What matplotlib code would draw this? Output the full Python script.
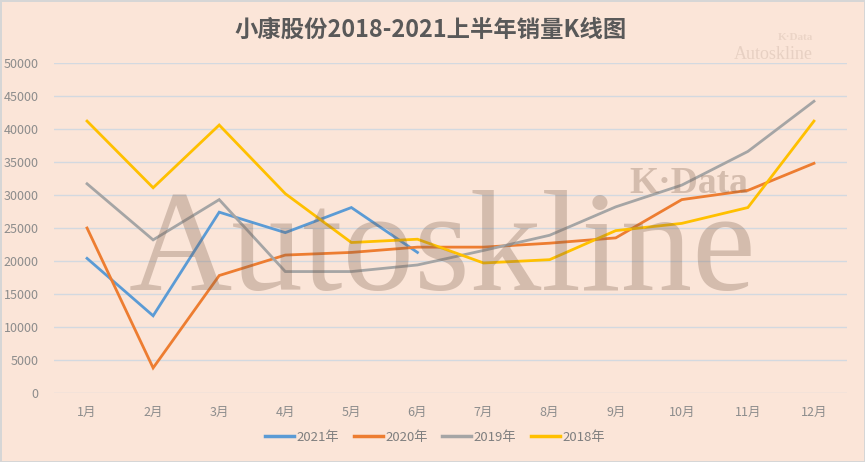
import matplotlib
matplotlib.use("Agg")
import matplotlib.pyplot as plt
from matplotlib.lines import Line2D

plt.rcParams['font.family'] = ['Noto Sans CJK SC', 'DejaVu Sans']

months = ['1月', '2月', '3月', '4月', '5月', '6月', '7月', '8月', '9月', '10月', '11月', '12月']
sales_2021 = [20400, 11700, 27400, 24300, 28100, 21300]
sales_2020 = [25000, 3800, 17800, 20900, 21300, 22100, 22100, 22700, 23500, 29300, 30700, 34800]
sales_2019 = [31700, 23200, 29300, 18400, 18400, 19400, 21600, 23900, 28200, 31500, 36600, 44200]
sales_2018 = [41200, 31100, 40600, 30200, 22800, 23300, 19700, 20200, 24600, 25700, 28100, 41200]
series_names = ['2021年', '2020年', '2019年', '2018年']
yticks = list(range(0, 50001, 5000))

bg = '#FBE5D8'
colors = ['#5B9BD5', '#ED7D31', '#A5A5A5', '#FFC000']

fig = plt.figure(figsize=(8.65, 4.62), dpi=100, facecolor=bg)
fig.patch.set_edgecolor('#D6D6D6')
fig.patch.set_linewidth(2)
ax = fig.add_axes([54/865, 69/462, 793/865, 330/462])
ax.set_facecolor(bg)

for vals, c in zip([sales_2021, sales_2020, sales_2019, sales_2018], colors):
    ax.plot(range(len(vals)), vals, color=c, lw=2.0, zorder=3, solid_joinstyle='miter')

ax.set_xlim(-0.5, 11.5)
ax.set_ylim(0, 50000)
ax.set_xticks(range(12))
ax.set_xticklabels(months)
ax.set_yticks(yticks)
ax.set_yticklabels([str(v) for v in yticks])
ax.grid(axis='y', color='#D3D9E0', lw=1.0, zorder=1)
ax.set_axisbelow(True)
for s in ax.spines.values():
    s.set_visible(False)
ax.tick_params(length=0, colors='#8C8C8C', labelsize=9)
ax.tick_params(axis='x', pad=9)
ax.tick_params(axis='y', pad=11)

fig.text(431/865, 1 - 30/462, '小康股份2018-2021上半年销量K线图', ha='center', va='center',
         fontsize=16.8, fontweight='bold', color='#595959')

# watermarks
fig.text(442/865, 1 - 290/462, 'Autoskline', ha='center', va='baseline', family='Liberation Serif',
         fontsize=103, color='#7A5E4C', alpha=0.30, zorder=10)
fig.text(689/865, 1 - 193/462, 'K·Data', ha='center', va='baseline', family='Liberation Serif',
         fontsize=27, fontweight='bold', color='#7A5E4C', alpha=0.3, zorder=10)
fig.text(795/865, 1 - 40/462, 'K·Data', ha='center', va='baseline', family='Liberation Serif',
         fontsize=8, fontweight='bold', color='#7A5E4C', alpha=0.12, zorder=10)
fig.text(773/865, 1 - 59/462, 'Autoskline', ha='center', va='baseline', family='Liberation Serif',
         fontsize=13, color='#7A5E4C', alpha=0.15, zorder=10)

handles = [Line2D([0], [0], color=c, lw=2.5) for c in colors]
leg = fig.legend(handles, series_names, loc='center', bbox_to_anchor=(435/865, 1 - 437/462),
                 ncol=4, frameon=False, fontsize=9.5, handlelength=2.2, handletextpad=0.2,
                 columnspacing=1.1)
for t in leg.get_texts():
    t.set_color('#7F7F7F')

fig.savefig('out.png', dpi=100, facecolor=bg, edgecolor='#D6D6D6')
